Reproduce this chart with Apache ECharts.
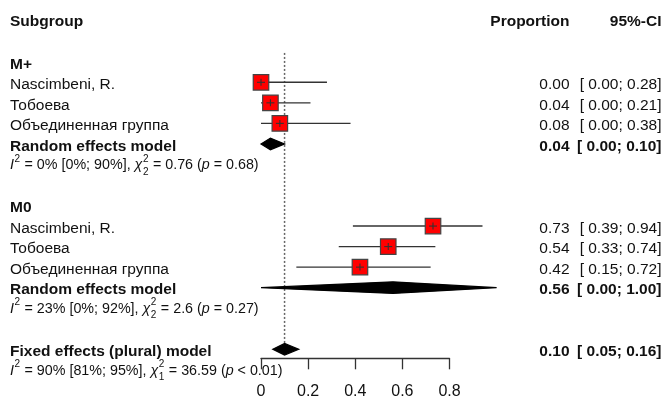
<!DOCTYPE html>
<html><head><meta charset="utf-8">
<script src="https://cdn.jsdelivr.net/npm/echarts@6/dist/echarts.min.js"></script>
<style>html,body{margin:0;padding:0;background:#fff}#c{width:665px;height:401px}</style>
</head><body><div id="c"></div>
<script>
// ---- data ----
const groupNames = ['M+', 'M0'];
const studyNames = ['Nascimbeni, R.', 'Тобоева', 'Объединенная группа'];
const mPlusEst = [0.00, 0.04, 0.08];
const mPlusLower = [0.00, 0.00, 0.00];
const mPlusUpper = [0.28, 0.21, 0.38];
const mZeroEst = [0.73, 0.54, 0.42];
const mZeroLower = [0.39, 0.33, 0.15];
const mZeroUpper = [0.94, 0.74, 0.72];
const randomEst = [0.04, 0.56];
const randomLower = [0.00, 0.00];
const randomUpper = [0.10, 1.00];
const fixedEst = 0.10, fixedLower = 0.05, fixedUpper = 0.16;
const xTicks = [0, 0.2, 0.4, 0.6, 0.8];
const hetI2 = ['0%', '23%', '90%'];
const hetI2ci = ['[0%; 90%]', '[0%; 92%]', '[81%; 95%]'];
const hetDf = ['2', '2', '1'];
const hetQ = ['0.76', '2.6', '36.59'];
const hetP = ['= 0.68', '= 0.27', '< 0.01'];
const headers = {left: 'Subgroup', est: 'Proportion', ci: '95%-CI'};
const randomLabel = 'Random effects model';
const fixedLabel = 'Fixed effects (plural) model';

// ---- build rows ----
const FONT = '"Liberation Sans", Arial, sans-serif';
const groupEst = [mPlusEst, mZeroEst], groupLo = [mPlusLower, mZeroLower], groupHi = [mPlusUpper, mZeroUpper];
const ciText = (lo, hi) => '[ ' + lo.toFixed(2) + '; ' + hi.toFixed(2) + ']';
const textRows = [];
const studyData = [];
const diamondData = [];
const hetData = [];
textRows.push({row: 0, left: headers.left, bold: true, est: headers.est, ci: headers.ci, head: true});
groupNames.forEach((g, gi) => {
  const base = 2 + gi * 7;
  textRows.push({row: base, left: g, bold: true});
  studyNames.forEach((s, si) => {
    const r = base + 1 + si;
    textRows.push({row: r, left: s, bold: false, est: groupEst[gi][si].toFixed(2), ci: ciText(groupLo[gi][si], groupHi[gi][si])});
    studyData.push([r, groupEst[gi][si], groupLo[gi][si], groupHi[gi][si]]);
  });
  const rr = base + 4;
  textRows.push({row: rr, left: randomLabel, bold: true, est: randomEst[gi].toFixed(2), ci: ciText(randomLower[gi], randomUpper[gi])});
  diamondData.push([rr, randomEst[gi], randomLower[gi], randomUpper[gi]]);
  hetData.push([base + 5, gi]);
});
textRows.push({row: 16, left: fixedLabel, bold: true, est: fixedEst.toFixed(2), ci: ciText(fixedLower, fixedUpper)});
diamondData.push([16, fixedEst, fixedLower, fixedUpper]);
hetData.push([17, 2]);

const mctx = document.createElement('canvas').getContext('2d');
function tw(t, size, italic, bold) {
  mctx.font = (italic ? 'italic ' : '') + (bold ? 'bold ' : '') + size + 'px ' + FONT;
  return mctx.measureText(t).width;
}

const chart = echarts.init(document.getElementById('c'), null, {renderer: 'canvas'});
const TXT = 15.5, HET = 14.3, SMALL = 10;
const COL_LEFT = 10, COL_EST = 569.5, COL_CI = 661.5;

chart.setOption({
  animation: false,
  grid: {left: 261, right: 215.5, top: 20.7, bottom: 42.7},
  xAxis: {
    type: 'value', min: 0, max: 0.8, interval: 0.2, position: 'bottom',
    axisLine: {show: true, onZero: false, lineStyle: {color: '#333', width: 1.3}},
    axisTick: {show: true, length: 11, lineStyle: {color: '#333', width: 1.3}},
    axisLabel: {fontSize: 16, color: '#111', fontFamily: FONT, margin: 25,
      formatter: v => { const t = xTicks.find(x => Math.abs(x - v) < 1e-9); return t === undefined ? '' : String(t); }},
    splitLine: {show: false}
  },
  yAxis: {type: 'value', inverse: true, min: 0, max: 16.44, show: false},
  series: [
    { // reference line at fixed effect estimate
      type: 'custom', clip: false, data: [[fixedEst]],
      renderItem: (p, api) => {
        const a = api.coord([api.value(0), 1.57]), b = api.coord([api.value(0), 15.7]);
        return {type: 'line', shape: {x1: a[0], y1: a[1], x2: b[0], y2: b[1]},
          style: {stroke: '#666', lineWidth: 1.5, lineDash: [2, 2]}};
      }
    },
    { // studies
      type: 'custom', clip: false, data: studyData,
      renderItem: (p, api) => {
        const row = api.value(0);
        const e = api.coord([api.value(1), row]), l = api.coord([api.value(2), row]), h = api.coord([api.value(3), row]);
        const s = 15.5;
        return {type: 'group', children: [
          {type: 'line', shape: {x1: l[0], y1: l[1], x2: h[0], y2: h[1]}, style: {stroke: '#333', lineWidth: 1.4}},
          {type: 'rect', shape: {x: e[0] - s / 2, y: e[1] - s / 2, width: s, height: s}, style: {fill: '#ff0000', stroke: '#444', lineWidth: 1.2}},
          {type: 'line', shape: {x1: e[0] - 4, y1: e[1], x2: e[0] + 4, y2: e[1]}, style: {stroke: '#333', lineWidth: 1.1}},
          {type: 'line', shape: {x1: e[0], y1: e[1] - 3.5, x2: e[0], y2: e[1] + 3.5}, style: {stroke: '#333', lineWidth: 1.1}}
        ]};
      }
    },
    { // diamonds
      type: 'custom', clip: false, data: diamondData,
      renderItem: (p, api) => {
        const row = api.value(0);
        const e = api.coord([api.value(1), row]), l = api.coord([api.value(2), row]), h = api.coord([api.value(3), row]);
        const hh = 5.8;
        return {type: 'polygon', shape: {points: [[l[0], l[1]], [e[0], e[1] - hh], [h[0], h[1]], [e[0], e[1] + hh]]},
          style: {fill: '#000', stroke: '#000', lineWidth: 1.2}};
      }
    },
    { // text columns
      type: 'custom', clip: false, data: textRows.map(r => [r.row]),
      renderItem: (p, api) => {
        const r = textRows[p.dataIndex];
        const y = api.coord([0, api.value(0)])[1] + (r.head ? 1.5 : 2.5);
        const kids = [];
        const st = (bold) => ({fontSize: TXT, fontFamily: FONT, fontWeight: bold ? 'bold' : 'normal', fill: '#111', verticalAlign: 'middle'});
        kids.push({type: 'text', x: COL_LEFT, y: y, style: Object.assign(st(r.bold), {text: r.left, align: 'left'})});
        if (r.est !== undefined) {
          kids.push({type: 'text', x: COL_EST, y: y, style: Object.assign(st(r.bold), {text: r.est, align: 'right'})});
          kids.push({type: 'text', x: COL_CI, y: y, style: Object.assign(st(r.bold), {text: r.ci, align: 'right'})});
        }
        return {type: 'group', children: kids};
      }
    },
    { // heterogeneity lines
      type: 'custom', clip: false, data: hetData,
      renderItem: (p, api) => {
        const i = api.value(1);
        const y = api.coord([0, api.value(0)])[1] + 1;
        const pieces = [
          {t: 'I', it: true}, {sup: '2'},
          {t: ' = ' + hetI2[i] + ' ' + hetI2ci[i] + ', '},
          {t: 'χ', it: true}, {sup: '2', sub: hetDf[i]},
          {t: ' = ' + hetQ[i] + ' ('}, {t: 'p', it: true}, {t: ' ' + hetP[i] + ')'}
        ];
        let x = COL_LEFT;
        const kids = [];
        const mk = (t, xx, yy, size, it) => ({type: 'text', x: xx, y: yy, style: {text: t, fontSize: size, fontFamily: FONT,
          fontStyle: it ? 'italic' : 'normal', fill: '#111', align: 'left', verticalAlign: 'middle'}});
        pieces.forEach(pc => {
          if (pc.t !== undefined) {
            kids.push(mk(pc.t, x, y, HET, pc.it));
            x += tw(pc.t, HET, pc.it, false);
          } else {
            let w = 0;
            if (pc.sup) { kids.push(mk(pc.sup, x + 0.5, y - 6.5, SMALL, false)); w = Math.max(w, tw(pc.sup, SMALL)); }
            if (pc.sub) { kids.push(mk(pc.sub, x + 0.5, y + 6.5, SMALL, false)); w = Math.max(w, tw(pc.sub, SMALL)); }
            x += w + 1;
          }
        });
        return {type: 'group', children: kids};
      }
    }
  ]
});
</script></body></html>
